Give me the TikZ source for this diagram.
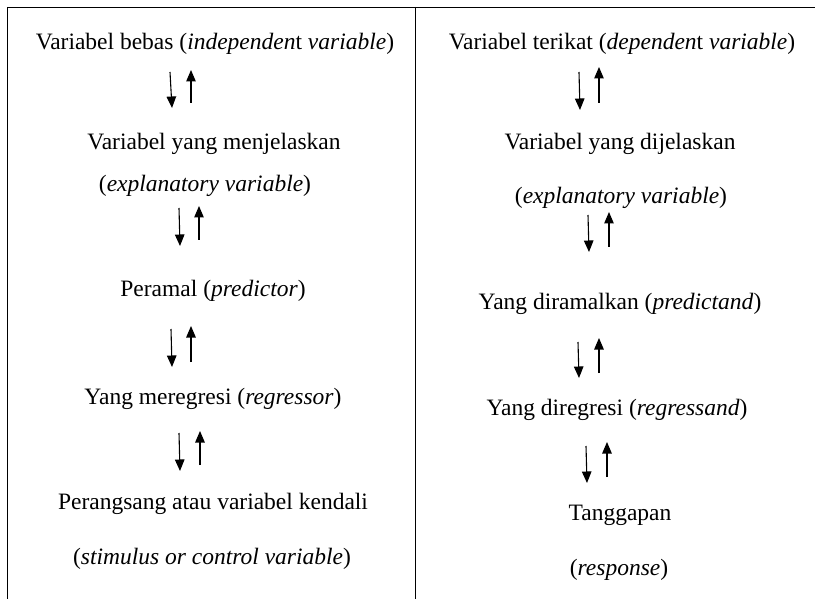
\documentclass[tikz,border=0pt]{standalone}
\usepackage{fontspec}
\setmainfont{Liberation Serif}
\usetikzlibrary{arrows.meta}
\begin{document}
\begin{tikzpicture}[x=1pt,y=-1pt,
  lbl/.style={anchor=base,inner sep=0pt,font=\fontsize{23.5}{28}\selectfont},
  rule/.style={line width=0.9pt,black},
  updown/.style={line width=1.1pt,-{Triangle[width=9.5pt,length=11.5pt]}}]
\useasboundingbox (0,0) rectangle (815,599);
% table rules
\draw[rule] (7,7) -- (815,7);
\draw[rule] (7,7) -- (7,599);
\draw[rule] (415,7) -- (415,599);
% left column
\node[lbl] (l1) at (215,50) {Variabel bebas (\textit{independen}t \textit{variable})};
\node[lbl] (l2) at (214,150) {Variabel yang menjelaskan};
\node[lbl] (l3) at (205,192) {(\textit{explanatory variable})};
\node[lbl] (l4) at (213,297) {Peramal (\textit{predictor})};
\node[lbl] (l5) at (213,404) {Yang meregresi (\textit{regressor})};
\node[lbl] (l6) at (213,509) {Perangsang atau variabel kendali};
\node[lbl] (l7) at (212,564) {(\textit{stimulus or control variable})};
% right column
\node[lbl] (r1) at (622,50) {Variabel terikat (\textit{dependen}t \textit{variable})};
\node[lbl] (r2) at (620,150) {Variabel yang dijelaskan};
\node[lbl] (r3) at (621,204) {(\textit{explanatory variable})};
\node[lbl] (r4) at (620,309) {Yang diramalkan (\textit{predictand})};
\node[lbl] (r5) at (617,415) {Yang diregresi (\textit{regressand})};
\node[lbl] (r6) at (620,520) {Tanggapan};
\node[lbl] (r7) at (619,575) {(\textit{response})};
% arrow end points, left
\coordinate (la1d) at (170,72);  \coordinate (la1e) at (172,108);
\coordinate (la1u) at (191,103); \coordinate (la1f) at (191,70);
\coordinate (la2d) at (179,208); \coordinate (la2e) at (180,246);
\coordinate (la2u) at (199,240); \coordinate (la2f) at (199,206);
\coordinate (la3d) at (171,329); \coordinate (la3e) at (172,367);
\coordinate (la3u) at (191,362); \coordinate (la3f) at (191,326);
\coordinate (la4d) at (179,433); \coordinate (la4e) at (180,471);
\coordinate (la4u) at (200,465); \coordinate (la4f) at (200,431);
% arrow end points, right
\coordinate (ra1d) at (579,72);  \coordinate (ra1e) at (580,110);
\coordinate (ra1u) at (599,103); \coordinate (ra1f) at (599,67);
\coordinate (ra2d) at (588,215); \coordinate (ra2e) at (589,252);
\coordinate (ra2u) at (609,247); \coordinate (ra2f) at (609,212);
\coordinate (ra3d) at (578,342); \coordinate (ra3e) at (579,378);
\coordinate (ra3u) at (599,373); \coordinate (ra3f) at (599,338);
\coordinate (ra4d) at (586,446); \coordinate (ra4e) at (587,483);
\coordinate (ra4u) at (607,477); \coordinate (ra4f) at (607,442);
\foreach \s in {la1,la2,la3,la4,ra1,ra2,ra3,ra4}{
  \draw[updown] (\s d) -- (\s e);
  \draw[updown] (\s u) -- (\s f);
}
\end{tikzpicture}
\end{document}
